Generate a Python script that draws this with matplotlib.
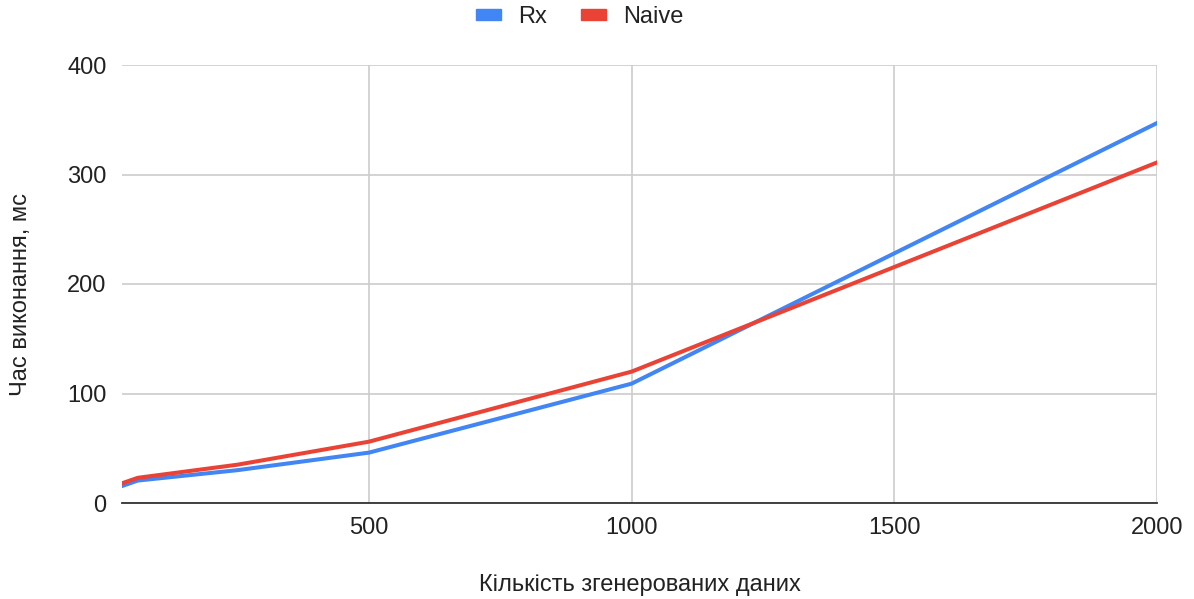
import matplotlib.pyplot as plt
from matplotlib.patches import Patch

plt.rcParams['font.family'] = ['Liberation Sans', 'DejaVu Sans']

# кількість згенерованих елементів
sizes = [30, 60, 250, 500, 1000, 2000]
# час виконання, мс
rx_ms = [15.5, 20.5, 30, 46, 109, 347]
naive_ms = [18, 23, 35, 56, 120, 311]

blue = '#4285F4'
red = '#EA4335'
grid_c = '#cccccc'
text_c = '#222222'
fs = 17

fig = plt.figure(figsize=(11.94, 5.99), dpi=100)
ax = fig.add_axes([122 / 1194, 1 - 503 / 599, (1157 - 122) / 1194, (503 - 65) / 599])

ax.plot(sizes, rx_ms, color=blue, lw=2.9, solid_joinstyle='round', zorder=3)
ax.plot(sizes, naive_ms, color=red, lw=2.9, solid_joinstyle='round', zorder=4)

ax.set_xlim(sizes[0], 2000)
ax.set_ylim(0, 400)
ax.set_xticks([500, 1000, 1500, 2000])
ax.set_yticks([0, 100, 200, 300, 400])

ax.grid(True, color=grid_c, lw=1.2, zorder=0)
for s in ['top', 'right', 'left']:
    ax.spines[s].set_visible(False)
ax.spines['bottom'].set_color('#333333')
ax.spines['bottom'].set_linewidth(1.3)

ax.tick_params(axis='x', length=0, pad=10, labelsize=fs, labelcolor=text_c)
ax.tick_params(axis='y', length=0, pad=11, labelsize=fs, labelcolor=text_c)

ax.set_xlabel('Кількість згенерованих даних', fontsize=fs, color=text_c)
ax.set_ylabel('Час виконання, мс', fontsize=fs, color=text_c)
ax.xaxis.set_label_coords(0.5, -0.162)
ax.yaxis.set_label_coords(-0.087, 0.475)

handles = [Patch(color=blue, label='Rx'), Patch(color=red, label='Naive')]
fig.legend(handles=handles, loc='center', bbox_to_anchor=(580 / 1194, 1 - 17 / 599),
           ncol=2, frameon=False, fontsize=fs, handlelength=1.06, handleheight=0.34,
           columnspacing=1.44, handletextpad=0.72, labelcolor=text_c)

fig.savefig('out.png', dpi=100)
